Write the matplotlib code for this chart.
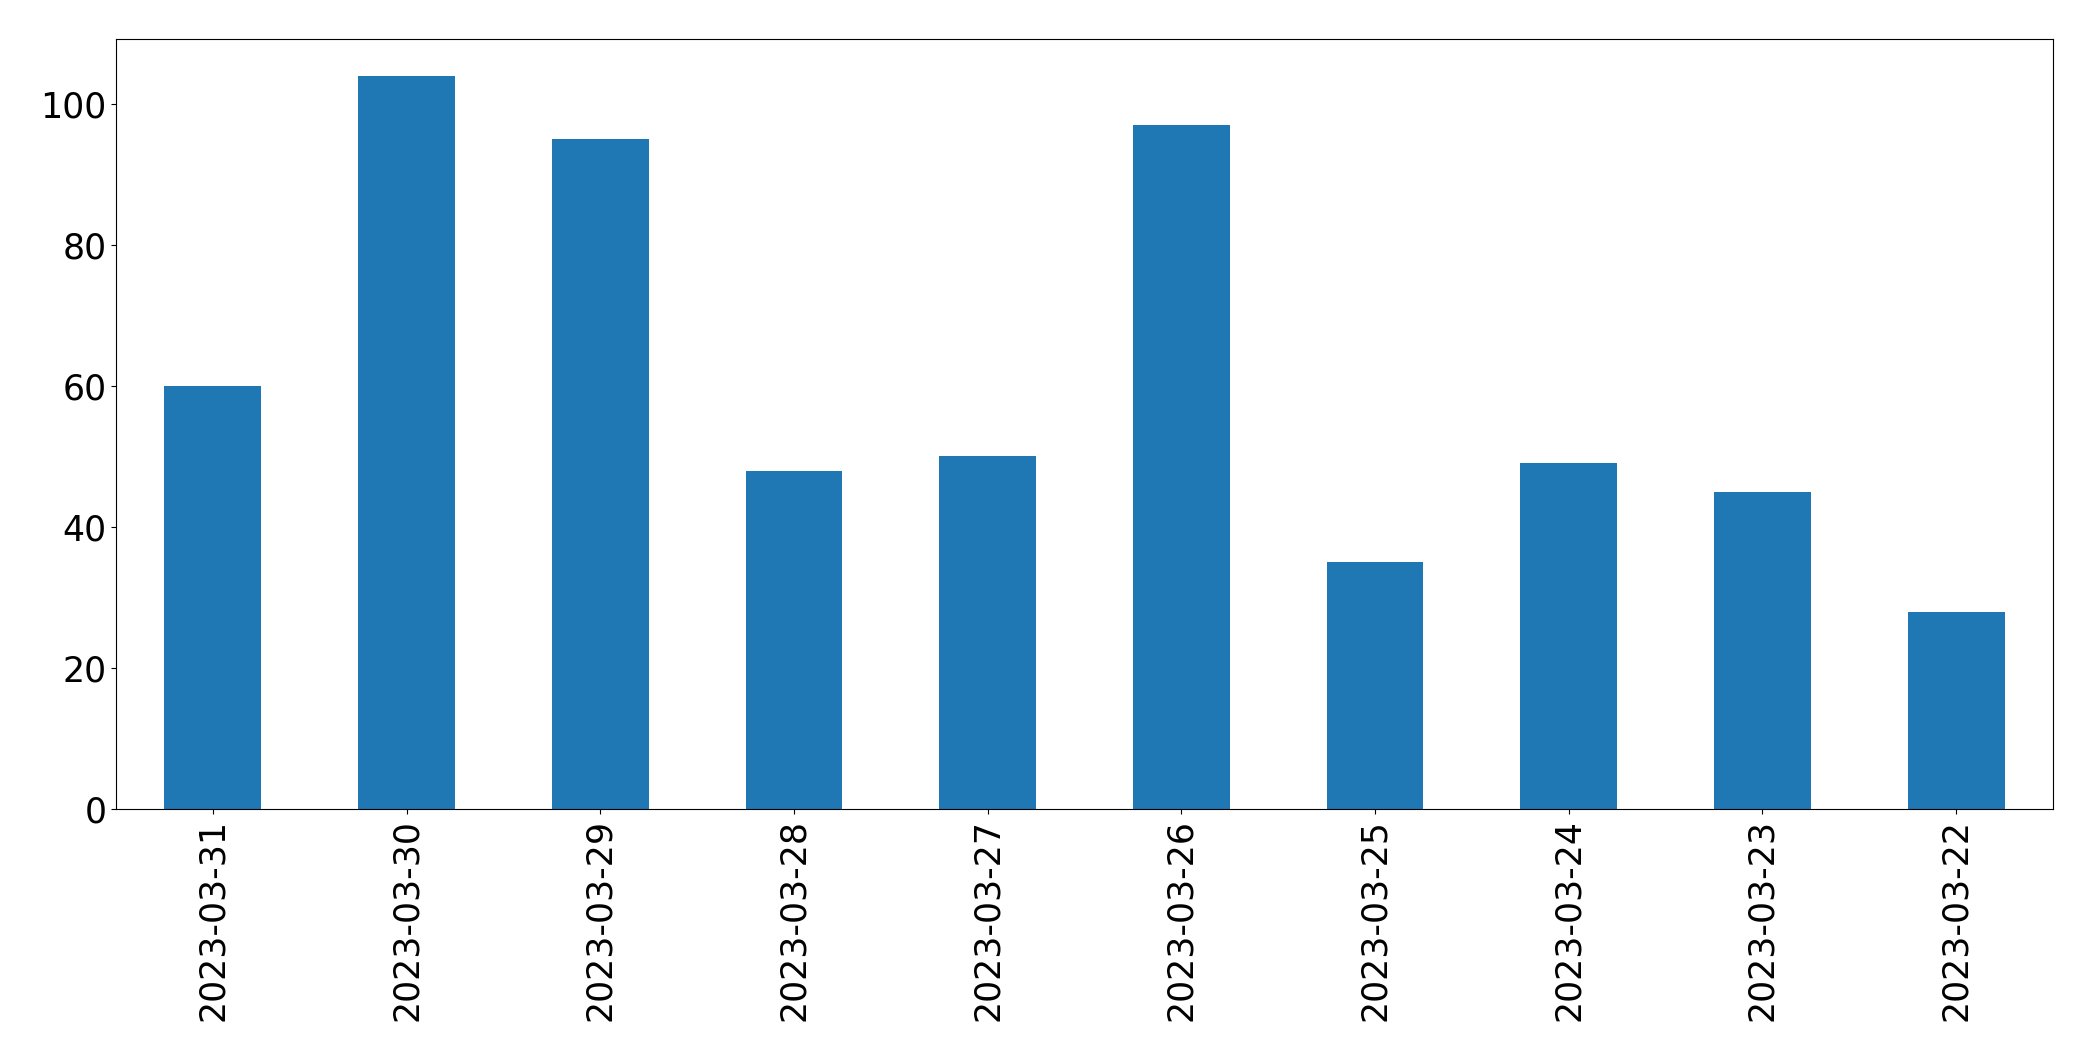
import matplotlib
matplotlib.use("Agg")
import matplotlib.pyplot as plt

dates = ["2023-03-31", "2023-03-30", "2023-03-29", "2023-03-28", "2023-03-27",
         "2023-03-26", "2023-03-25", "2023-03-24", "2023-03-23", "2023-03-22"]
counts = [60, 104, 95, 48, 50, 97, 35, 49, 45, 28]

fig, ax = plt.subplots(figsize=(20.93, 10.61), dpi=100)
fig.subplots_adjust(left=116/2093, right=2053/2093, top=1-39/1061, bottom=1-809/1061)
x = list(range(len(dates)))
ax.bar(x, counts, width=0.5, color="#1f77b4")
ax.set_xlim(-0.5, len(dates) - 0.5)
ax.set_xticks(x)
ax.set_xticklabels(dates, rotation=90)
ax.tick_params(axis="both", labelsize=25)
for s in ax.spines.values():
    s.set_color("black")
fig.savefig("out.png", dpi=100)
